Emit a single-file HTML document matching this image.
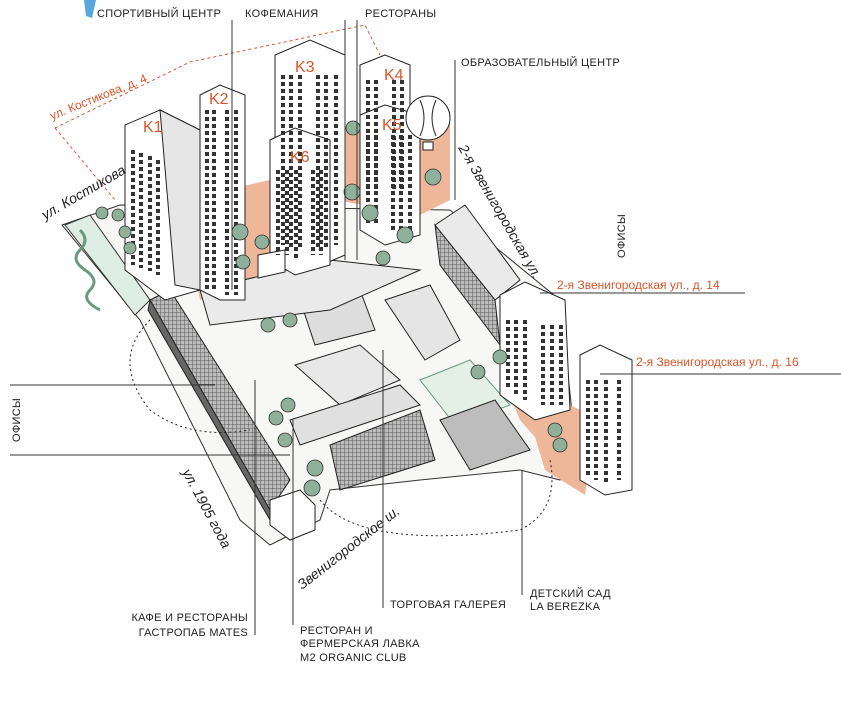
<!DOCTYPE html>
<html><head><meta charset="utf-8"><style>
html,body{margin:0;padding:0;background:#fff;}
svg{display:block}
text{font-family:"Liberation Sans","Noto Sans CJK SC",sans-serif;}
.l{font-size:11px;fill:#222;letter-spacing:0.3px}
.o{font-size:12px;fill:#d9552a}
.h{font-size:14px;fill:#222;font-style:italic}
</style></head><body>
<svg width="841" height="710" viewBox="0 0 841 710" xmlns="http://www.w3.org/2000/svg">
<defs>
<pattern id="grid" width="4" height="4" patternUnits="userSpaceOnUse"><rect width="4" height="4" fill="#bbb"/><path d="M0 0H4M0 0V4" stroke="#444" stroke-width="0.8"/></pattern>
</defs>
<rect width="841" height="710" fill="#fff"/>
<path d="M84 0 L96 0 L92 18 L86 16 Z" fill="#5aa7e0"/>
<path d="M55 128 L190 62 L365 25 L380 55" fill="none" stroke="#d9552a" stroke-dasharray="3,3"/>
<path d="M55 128 L115 200" fill="none" stroke="#d9552a" stroke-dasharray="3,3"/>
<polygon points="62,225 120,205 450,210 560,300 575,440 560,480 520,470 420,480 330,490 320,520 270,545 240,520 140,320" fill="#f7f7f5" stroke="#333" stroke-width="1"/>
<polygon points="180,200 270,180 280,270 200,300" fill="#eeb79a"/>
<polygon points="330,130 450,120 450,200 420,215 335,200" fill="#eeb79a"/>
<polygon points="500,370 580,410 580,470 555,460 520,420" fill="#eeb79a"/>
<polygon points="530,420 590,460 585,495 545,470" fill="#eeb79a"/>
<polygon points="65,225 90,215 150,300 135,315" fill="#dfeee4" stroke="#333"/>
<path d="M80 230 q10 10 0 20 q-10 10 5 20 q15 10 5 20 q-10 10 10 20" fill="none" stroke="#6a9a7c" stroke-width="3"/>
<polygon points="420,380 470,360 510,405 455,425" fill="#e4efe6" stroke="#6a9a7c"/>
<polygon points="150,300 170,290 290,480 270,510" fill="url(#grid)" stroke="#222"/>
<polygon points="150,300 270,510 270,520 148,310" fill="#666" stroke="#222"/>
<polygon points="295,365 360,345 400,380 340,405" fill="#e8e8e8" stroke="#222"/>
<polygon points="300,300 360,290 375,330 315,345" fill="#ddd" stroke="#222"/>
<polygon points="385,300 430,285 460,340 425,360" fill="#e5e5e5" stroke="#222"/>
<polygon points="330,445 420,410 435,460 340,490" fill="url(#grid)" stroke="#222"/>
<polygon points="290,420 400,385 420,405 300,445" fill="#e0e0e0" stroke="#222"/>
<polygon points="440,420 495,400 530,450 470,470" fill="#bdbdbd" stroke="#222"/>
<polygon points="200,290 330,260 420,270 330,310 210,325" fill="#eaeaea" stroke="#222"/>
<polygon points="435,225 465,205 520,280 495,300" fill="#eaeaea" stroke="#222"/>
<polygon points="435,225 495,300 500,345 440,265" fill="url(#grid)" stroke="#222"/>
<g stroke="#222" stroke-width="1">
<polygon points="125,125 160,110 200,130 200,290 165,300 125,270" fill="#fff"/>
<polygon points="160,110 200,130 200,290 175,285" fill="#e6e6e6"/>
<polygon points="200,95 220,85 245,95 245,300 220,300 200,290" fill="#fff"/>
<polygon points="275,55 310,40 345,55 345,255 310,270 275,250" fill="#fff"/>
<polygon points="360,65 385,55 410,65 410,200 385,210 360,200" fill="#fff"/>
<polygon points="360,115 385,105 420,115 420,235 385,245 360,230" fill="#fff"/>
<polygon points="270,140 295,128 330,140 330,265 295,275 270,260" fill="#fff"/>
<polygon points="500,295 525,282 565,300 570,410 535,420 500,395" fill="#fff"/>
<polygon points="580,355 600,345 632,360 632,490 605,495 580,480" fill="#fff"/>
<polygon points="270,500 300,490 315,505 315,530 290,540 270,525" fill="#fff"/>
<polygon points="258,255 285,250 285,272 258,278" fill="#fff"/>
</g>
<g stroke="#333" stroke-width="4" stroke-dasharray="4,3">
<path d="M133 150 v115 M141 153 v115 M150 156 v115 M158 160 v115 M207 110 v180 M214 110 v180 M227 110 v185 M236 110 v185 M283 75 v170 M291 75 v175 M300 75 v175 M318 75 v175 M326 75 v175 M336 75 v170 M368 80 v110 M376 80 v110 M394 80 v110 M402 80 v110 M368 135 v90 M376 135 v90 M393 135 v95 M401 135 v95 M410 135 v95 M278 170 v85 M287 170 v85 M296 170 v90 M313 170 v85 M321 170 v85 M508 320 v70 M516 320 v75 M525 320 v80 M543 325 v80 M552 325 v80 M561 325 v80 M588 380 v95 M596 380 v100 M606 380 v105 M619 380 v100"/>
</g>
<circle cx="428" cy="118" r="22" fill="#fff" stroke="#222"/>
<path d="M420 100 q8 18 0 36 M436 100 q-8 18 0 36" fill="none" stroke="#222"/>
<rect x="423" y="142" width="10" height="8" fill="#fff" stroke="#222"/>
<g class="o" style="font-size:16px">
<text x="143" y="132">K1</text><text x="209" y="104">K2</text><text x="295" y="72">K3</text><text x="384" y="80">K4</text><text x="382" y="130">K5</text><text x="290" y="162">K6</text>
</g>
<g fill="#8fb09a" stroke="#333" stroke-width="0.8">
<circle cx="102" cy="213" r="6"/><circle cx="118" cy="215" r="6"/><circle cx="125" cy="232" r="6"/><circle cx="130" cy="248" r="6"/>
<circle cx="240" cy="232" r="8"/><circle cx="262" cy="242" r="7"/><circle cx="243" cy="262" r="7"/><circle cx="353" cy="128" r="7"/><circle cx="352" cy="192" r="8"/><circle cx="370" cy="213" r="8"/><circle cx="405" cy="235" r="8"/><circle cx="383" cy="258" r="7"/><circle cx="433" cy="177" r="8"/>
<circle cx="268" cy="325" r="7"/><circle cx="290" cy="320" r="7"/><circle cx="288" cy="405" r="7"/><circle cx="276" cy="418" r="7"/><circle cx="285" cy="440" r="7"/><circle cx="315" cy="468" r="8"/><circle cx="312" cy="488" r="8"/><circle cx="478" cy="372" r="7"/><circle cx="500" cy="357" r="7"/><circle cx="555" cy="430" r="7"/><circle cx="560" cy="445" r="7"/>
</g>
<path d="M150 320 q-40 40 0 90 q40 30 100 20 M320 500 q40 50 200 30 q40 -20 30 -70" fill="none" stroke="#222" stroke-dasharray="2,3"/>
<g stroke="#333" stroke-width="1" fill="none">
<line x1="232" y1="20" x2="232" y2="290"/>
<line x1="345" y1="20" x2="345" y2="260"/>
<line x1="357" y1="20" x2="357" y2="260"/>
<line x1="455" y1="60" x2="455" y2="200"/>
<line x1="540" y1="293" x2="745" y2="293"/>
<line x1="600" y1="374" x2="841" y2="374"/>
<line x1="10" y1="385" x2="215" y2="385"/>
<line x1="10" y1="455" x2="290" y2="455"/>
<line x1="255" y1="380" x2="255" y2="635"/>
<line x1="293" y1="420" x2="293" y2="625"/>
<line x1="383" y1="350" x2="383" y2="608"/>
<line x1="522" y1="470" x2="522" y2="595"/>
</g>
<text class="l" x="97" y="17">СПОРТИВНЫЙ ЦЕНТР</text>
<text class="l" x="245" y="17">КОФЕМАНИЯ</text>
<text class="l" x="365" y="17">РЕСТОРАНЫ</text>
<text class="l" x="461" y="66">ОБРАЗОВАТЕЛЬНЫЙ ЦЕНТР</text>
<text class="l" transform="translate(625,258) rotate(-90)">ОФИСЫ</text>
<text class="l" transform="translate(20,442) rotate(-90)">ОФИСЫ</text>
<text class="o" x="557" y="289">2-я Звенигородская ул., д. 14</text>
<text class="o" x="636" y="366">2-я Звенигородская ул., д. 16</text>
<text class="o" transform="translate(52,120) rotate(-22)">ул. Костикова, д. 4</text>
<text class="l" x="248" y="621" text-anchor="end">КАФЕ И РЕСТОРАНЫ</text>
<text class="l" x="248" y="636" text-anchor="end">ГАСТРОПАБ MATES</text>
<text class="l" x="300" y="634">РЕСТОРАН И</text>
<text class="l" x="300" y="647">ФЕРМЕРСКАЯ ЛАВКА</text>
<text class="l" x="300" y="661">M2 ORGANIC CLUB</text>
<text class="l" x="390" y="608">ТОРГОВАЯ ГАЛЕРЕЯ</text>
<text class="l" x="530" y="597">ДЕТСКИЙ САД</text>
<text class="l" x="530" y="610">LA BEREZKA</text>
<text class="h" transform="translate(45,220) rotate(-30)">ул. Костикова</text>
<text class="h" transform="translate(458,148) rotate(60)">2-я Звенигородская ул.</text>
<text class="h" transform="translate(182,472) rotate(62)">ул. 1905 года</text>
<text class="h" transform="translate(302,590) rotate(-38)">Звенигородское ш.</text>
</svg>
</body></html>
